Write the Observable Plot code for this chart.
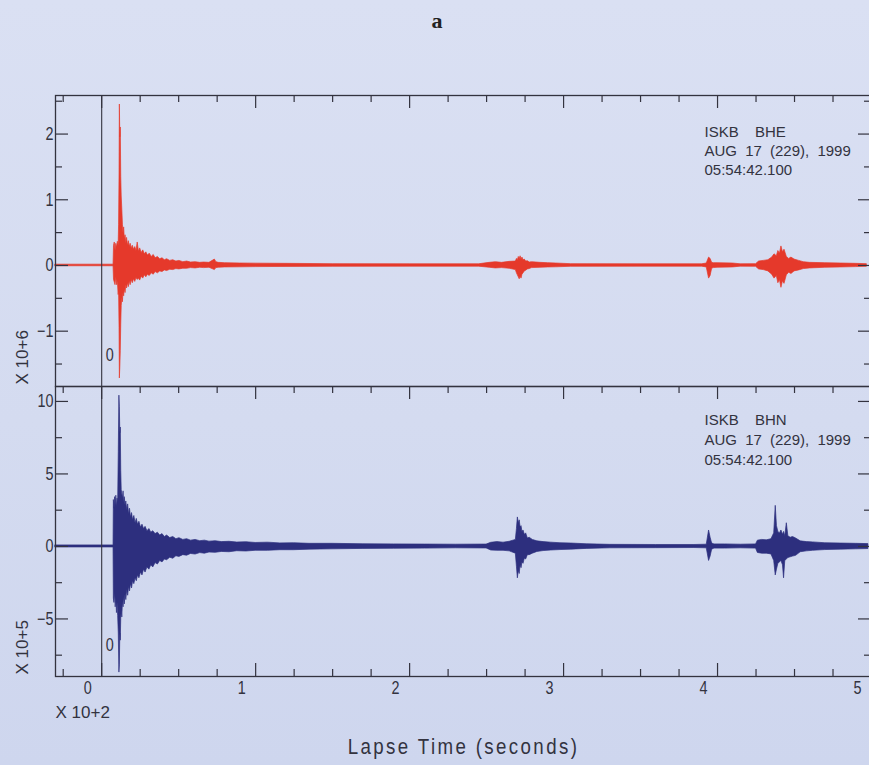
<!DOCTYPE html>
<html>
<head>
<meta charset="utf-8">
<script src="https://cdn.jsdelivr.net/npm/d3@7"></script>
<script src="https://cdn.jsdelivr.net/npm/@observablehq/plot@0.6"></script>
<style>
  html, body { margin: 0; padding: 0; overflow: hidden; background: #d5dcf0; }
  #wrap { position: relative; width: 869px; height: 765px; overflow: hidden;
          background: linear-gradient(180deg, #dae0f3 0%, #d4dbf0 55%, #ced6ee 100%); }
  #title { position: absolute; left: 0; width: 874px; top: 8px; text-align: center;
           font: bold 22px "Liberation Serif", "DejaVu Serif", serif; color: #222; line-height: 26px; }
  #top { position: absolute; left: 0; top: 0; }
  #bot { position: absolute; left: 0; top: 382px; }
  text[aria-label="axis-title"] { letter-spacing: 2.8px; }
  text[aria-label="station"] { word-spacing: 4px; }
</style>
</head>
<body>
<div id="wrap">
  <div id="title">a</div>
  <div id="top"></div>
  <div id="bot"></div>
</div>
<script>
// ---------------- data ----------------
// time in units of 10^2 s ; amplitudes: top trace x 10^6, bottom trace x 10^5
const redTime = [
 -0.300, 0.077, 0.080, 0.085, 0.090, 0.095, 0.100, 0.105, 0.110, 0.113,
  0.116, 0.118, 0.121, 0.124, 0.127, 0.130, 0.134, 0.138, 0.142, 0.146,
  0.150, 0.155, 0.160, 0.165, 0.170, 0.176, 0.182, 0.188, 0.195, 0.202,
  0.210, 0.218, 0.226, 0.234, 0.242, 0.250, 0.260, 0.270, 0.280, 0.290,
  0.300, 0.312, 0.325, 0.338, 0.350, 0.365, 0.380, 0.395, 0.410, 0.425,
  0.445, 0.465, 0.485, 0.505, 0.530, 0.555, 0.580, 0.610, 0.640, 0.665,
  0.700, 0.735, 0.745, 0.760, 0.800, 0.900, 1.000, 1.200, 1.500, 2.000,
  2.450, 2.520, 2.560, 2.600, 2.650, 2.690, 2.697, 2.703, 2.709, 2.715,
  2.721, 2.727, 2.733, 2.740, 2.748, 2.757, 2.768, 2.780, 2.795, 2.850,
  2.900, 2.950, 3.050, 3.500, 3.900, 3.930, 3.945, 3.955, 3.965, 3.975,
  4.000, 4.100, 4.150, 4.250, 4.270, 4.300, 4.330, 4.355, 4.370, 4.385,
  4.395, 4.405, 4.415, 4.425, 4.435, 4.450, 4.465, 4.480, 4.500, 4.530,
  4.560, 4.600, 4.700, 4.800, 4.900, 4.970
];
const redMax = [
  0.012, 0.012, 0.30, 0.35, 0.22, 0.33, 0.27, 0.36, 0.30, 0.62,
  1.40, 2.45, 1.95, 2.10, 1.35, 1.05, 0.85, 0.62, 0.48, 0.58,
  0.40, 0.46, 0.34, 0.42, 0.30, 0.37, 0.28, 0.33, 0.26, 0.30,
  0.24, 0.28, 0.22, 0.35, 0.21, 0.26, 0.19, 0.23, 0.17, 0.20,
  0.15, 0.18, 0.13, 0.16, 0.11, 0.13, 0.095, 0.11, 0.08, 0.095,
  0.07, 0.08, 0.06, 0.07, 0.05, 0.06, 0.045, 0.05, 0.04, 0.045,
  0.04, 0.09, 0.05, 0.04, 0.035, 0.03, 0.028, 0.025, 0.02, 0.018,
  0.018, 0.04, 0.05, 0.04, 0.055, 0.06, 0.10, 0.08, 0.13, 0.10,
  0.14, 0.09, 0.12, 0.08, 0.09, 0.06, 0.065, 0.045, 0.05, 0.04,
  0.035, 0.03, 0.02, 0.018, 0.018, 0.03, 0.12, 0.10, 0.04, 0.035,
  0.035, 0.03, 0.018, 0.02, 0.06, 0.07, 0.08, 0.12, 0.17, 0.14,
  0.22, 0.18, 0.29, 0.20, 0.24, 0.13, 0.10, 0.12, 0.09, 0.07,
  0.05, 0.04, 0.035, 0.03, 0.025, 0.02
];
const redMin = [
 -0.012, -0.012, -0.22, -0.26, -0.30, -0.18, -0.30, -0.24, -0.45, -0.38,
 -0.95, -1.72, -1.55, -1.30, -0.90, -0.62, -0.50, -0.56, -0.40, -0.47,
 -0.36, -0.42, -0.30, -0.35, -0.27, -0.33, -0.24, -0.30, -0.22, -0.27,
 -0.21, -0.25, -0.19, -0.22, -0.20, -0.23, -0.17, -0.20, -0.15, -0.18,
 -0.14, -0.16, -0.12, -0.14, -0.10, -0.12, -0.09, -0.10, -0.075, -0.085,
 -0.065, -0.07, -0.055, -0.06, -0.05, -0.05, -0.04, -0.045, -0.035, -0.04,
 -0.035, -0.07, -0.04, -0.035, -0.03, -0.028, -0.025, -0.022, -0.02, -0.018,
 -0.018, -0.035, -0.045, -0.04, -0.05, -0.07, -0.12, -0.15, -0.18, -0.21,
 -0.17, -0.20, -0.14, -0.12, -0.09, -0.08, -0.06, -0.055, -0.04, -0.035,
 -0.03, -0.028, -0.02, -0.018, -0.018, -0.03, -0.20, -0.16, -0.05, -0.04,
 -0.035, -0.03, -0.018, -0.02, -0.06, -0.07, -0.09, -0.14, -0.20, -0.16,
 -0.27, -0.22, -0.34, -0.24, -0.28, -0.15, -0.11, -0.13, -0.09, -0.075,
 -0.055, -0.045, -0.035, -0.03, -0.025, -0.02
];

const blueTime = [
 -0.300, 0.077, 0.079, 0.083, 0.087, 0.091, 0.095, 0.099, 0.103, 0.107,
  0.111, 0.115, 0.118, 0.121, 0.124, 0.127, 0.130, 0.134, 0.138, 0.142,
  0.146, 0.150, 0.155, 0.160, 0.166, 0.172, 0.178, 0.184, 0.190, 0.197,
  0.204, 0.212, 0.220, 0.228, 0.236, 0.245, 0.255, 0.265, 0.275, 0.285,
  0.297, 0.310, 0.322, 0.335, 0.350, 0.365, 0.380, 0.395, 0.410, 0.425,
  0.445, 0.465, 0.485, 0.505, 0.530, 0.555, 0.580, 0.610, 0.640, 0.670,
  0.700, 0.740, 0.780, 0.830, 0.880, 0.940, 1.000, 1.080, 1.160, 1.250,
  1.350, 1.500, 1.700, 1.900, 2.100, 2.300, 2.500, 2.530, 2.570, 2.610,
  2.650, 2.690, 2.697, 2.703, 2.709, 2.715, 2.721, 2.727, 2.733, 2.740,
  2.748, 2.757, 2.768, 2.780, 2.800, 2.830, 2.870, 2.920, 2.980, 3.050,
  3.150, 3.300, 3.600, 3.850, 3.930, 3.945, 3.955, 3.965, 3.980, 4.050,
  4.150, 4.250, 4.262, 4.290, 4.320, 4.350, 4.368, 4.378, 4.386, 4.395,
  4.405, 4.415, 4.425, 4.432, 4.440, 4.450, 4.460, 4.475, 4.490, 4.510,
  4.540, 4.580, 4.620, 4.700, 4.800, 4.900, 4.980
];
const blueMax = [
  0.07, 0.07, 3.2, 2.6, 3.4, 2.8, 3.5, 2.7, 3.3, 3.0,
  6.5, 10.4, 9.6, 7.8, 8.2, 5.2, 3.9, 3.6, 3.3, 3.8,
  3.0, 3.4, 2.8, 3.1, 2.5, 2.9, 2.2, 2.6, 2.0, 2.3,
  1.8, 2.1, 1.6, 1.9, 1.5, 1.7, 1.3, 1.5, 1.2, 1.35,
  1.05, 1.2, 0.95, 1.05, 0.85, 0.95, 0.75, 0.85, 0.65, 0.75,
  0.58, 0.65, 0.5, 0.57, 0.45, 0.5, 0.4, 0.45, 0.36, 0.4,
  0.33, 0.36, 0.3, 0.32, 0.27, 0.29, 0.24, 0.26, 0.21, 0.22,
  0.18, 0.18, 0.15, 0.14, 0.13, 0.12, 0.13, 0.25, 0.3, 0.26,
  0.32, 0.45, 1.2, 2.0, 1.6, 1.8, 1.3, 1.4, 1.0, 1.1,
  0.8, 0.9, 0.55, 0.6, 0.45, 0.35, 0.3, 0.26, 0.22, 0.2,
  0.15, 0.11, 0.1, 0.1, 0.12, 1.1, 0.6, 0.2, 0.14, 0.14,
  0.12, 0.14, 0.4, 0.45, 0.42, 0.5, 0.9, 2.8, 1.4, 1.0,
  0.9, 1.1, 0.8, 1.0, 0.7, 1.6, 0.7, 0.6, 0.65, 0.55,
  0.35, 0.3, 0.28, 0.22, 0.2, 0.18, 0.16
];
const blueMin = [
 -0.07, -0.07, -3.6, -3.9, -3.2, -4.2, -3.5, -4.6, -3.9, -4.8,
 -6.0, -8.7, -8.2, -6.0, -6.5, -5.0, -4.4, -4.9, -3.8, -4.2,
 -3.5, -4.0, -3.3, -3.7, -3.0, -3.4, -2.8, -3.1, -2.6, -2.9,
 -2.4, -2.6, -2.2, -2.4, -2.0, -2.2, -1.8, -2.0, -1.6, -1.8,
 -1.45, -1.6, -1.3, -1.45, -1.15, -1.25, -1.0, -1.1, -0.9, -0.95,
 -0.78, -0.85, -0.68, -0.72, -0.6, -0.64, -0.52, -0.56, -0.46, -0.5,
 -0.42, -0.44, -0.38, -0.4, -0.33, -0.35, -0.3, -0.3, -0.26, -0.26,
 -0.22, -0.2, -0.17, -0.16, -0.15, -0.13, -0.14, -0.28, -0.3, -0.3,
 -0.34, -0.5, -1.4, -2.2, -1.7, -1.9, -1.3, -1.5, -1.1, -1.2,
 -0.85, -0.9, -0.6, -0.6, -0.5, -0.38, -0.32, -0.28, -0.25, -0.22,
 -0.17, -0.13, -0.12, -0.11, -0.13, -1.0, -0.7, -0.22, -0.15, -0.15,
 -0.13, -0.15, -0.45, -0.5, -0.5, -0.55, -1.0, -2.0, -1.6, -1.2,
 -1.1, -1.0, -1.3, -2.2, -1.0, -0.9, -0.8, -0.75, -0.7, -0.65,
 -0.4, -0.34, -0.3, -0.25, -0.22, -0.2, -0.18
];

// axes / labels
const xMajorTicks = [0, 1, 2, 3, 4, 5];
const xMinorTicks = [-0.25, 0.25, 0.5, 0.75, 1.25, 1.5, 1.75, 2.25, 2.5, 2.75,
                     3.25, 3.5, 3.75, 4.25, 4.5, 4.75];
const topMajorTicks = [-1, 0, 1, 2];
const topMinorTicks = [-1.5, -0.5, 0.5, 1.5, 2.5];
const botMajorTicks = [-5, 0, 5, 10];
const botMinorTicks = [-7.5, -2.5, 2.5, 7.5];
const markerTimes = [0];
const markerNames = ["0"];
const station = "ISKB";
const channels = ["BHE", "BHN"];
const dateLine = "AUG 17 (229), 1999";
const clockLine = "05:54:42.100";
const yExponents = ["X 10+6", "X 10+5"];
const xExponent = "X 10+2";
const xTitle = "Lapse Time (seconds)";

// ---------------- drawing ----------------
[[redTime, redMax, redMin], [blueTime, blueMax, blueMin]].forEach(([a, b, c]) => {
  if (a.length !== b.length || a.length !== c.length) throw new Error("length mismatch " + a.length + " " + b.length + " " + c.length);
});

const ink = "#33333f";
const FONT = '"Liberation Sans", Arimo, Arial, sans-serif';
const W = 875, ML = 55, MR = 4, PW = W - ML - MR; // plot width 816
const xDomain = [-0.3, 5.0];
const fmt = d => (d < 0 ? "\u2212" : "") + Math.abs(d);

function panel({time, max, min, color, yDomain, yMajor, yMinor, channel, yExp,
                height, marginTop, marginBottom, bottomAxis, textDy, markerDy}) {
  const PH = height - marginTop - marginBottom;
  const marks = [
    Plot.areaY(time, {x: time, y1: min, y2: max, fill: color, stroke: color, strokeWidth: 0.7, curve: "linear"}),
    Plot.ruleX(markerTimes, {x: d => d, stroke: ink, strokeWidth: 1.1}),
    Plot.text(markerTimes, {x: d => d, text: markerNames, frameAnchor: "bottom", dx: 8, dy: markerDy,
                            fill: ink, fontSize: 18, lineAnchor: "middle", ariaLabel: () => "narrow"}),
    // y ticks (inward) left and right
    Plot.tickY(yMajor, {y: d => d, insetRight: PW - 13, stroke: ink, strokeWidth: 1.2}),
    Plot.tickY(yMinor, {y: d => d, insetRight: PW - 7, stroke: ink, strokeWidth: 1.2}),
    Plot.tickY(yMajor, {y: d => d, insetLeft: PW - 13, stroke: ink, strokeWidth: 1.2}),
    Plot.tickY(yMinor, {y: d => d, insetLeft: PW - 7, stroke: ink, strokeWidth: 1.2}),
    // x ticks on the top edge (pointing down)
    Plot.tickX(xMajorTicks, {x: d => d, insetBottom: PH - 13, stroke: ink, strokeWidth: 1.2}),
    Plot.tickX(xMinorTicks, {x: d => d, insetBottom: PH - 7, stroke: ink, strokeWidth: 1.2}),
    Plot.axisY(yMajor, {anchor: "left", tickSize: 0, tickPadding: 2, label: null, fontSize: 18, fill: ink, tickFormat: fmt}),
    Plot.text([station + " \u00a0" + channel], {text: d => d, frameAnchor: "top-right", dx: -167, dy: textDy[0],
              textAnchor: "start", lineAnchor: "middle", fontSize: 15, fill: ink, ariaLabel: () => "station"}),
    Plot.text([dateLine], {text: d => d, frameAnchor: "top-right", dx: -167, dy: textDy[1],
              textAnchor: "start", lineAnchor: "middle", fontSize: 15, fill: ink, ariaLabel: () => "station"}),
    Plot.text([clockLine], {text: d => d, frameAnchor: "top-right", dx: -167, dy: textDy[2],
              textAnchor: "start", lineAnchor: "middle", fontSize: 15, fill: ink, ariaLabel: () => "station"}),
    Plot.text([yExp], {text: d => d, frameAnchor: "bottom-left", dx: -33, dy: -2, rotate: -90,
              textAnchor: "start", lineAnchor: "middle", fontSize: 17, fill: ink}),
    Plot.frame({stroke: ink, strokeWidth: 1.3})
  ];
  if (bottomAxis) {
    marks.push(
      Plot.tickX(xMajorTicks, {x: d => d, insetTop: PH - 13, stroke: ink, strokeWidth: 1.2}),
      Plot.tickX(xMinorTicks, {x: d => d, insetTop: PH - 7, stroke: ink, strokeWidth: 1.2}),
      Plot.axisX(xMajorTicks, {anchor: "bottom", tickSize: 0, tickPadding: 5, dx: -14, label: null, fontSize: 18, fill: ink, tickFormat: fmt}),
      Plot.text([xExponent], {text: d => d, frameAnchor: "bottom-left", dx: 0, dy: 36, textAnchor: "start",
                lineAnchor: "middle", fontSize: 17, fill: ink}),
      Plot.text([xTitle], {text: d => d, frameAnchor: "bottom", dy: 70, lineAnchor: "middle",
                fontSize: 22, fill: ink, ariaLabel: () => "axis-title"})
    );
  }
  const svg = Plot.plot({
    width: W, height, marginTop, marginBottom, marginLeft: ML, marginRight: MR,
    x: {domain: xDomain, axis: bottomAxis ? undefined : null},
    y: {domain: yDomain},
    style: {background: "transparent", maxWidth: "none", overflow: "visible", fontFamily: FONT, fontSize: "18px", color: ink},
    marks
  });
  // narrow, plotter-style glyphs: compress selected texts horizontally about their own anchor
  const squeeze = (sel, k) => svg.querySelectorAll(sel).forEach(t => {
    const x = parseFloat(t.getAttribute("x"));
    const x0 = Number.isFinite(x) ? x : 0;
    const tr = t.getAttribute("transform") || "";
    t.setAttribute("transform", `${tr} translate(${x0},0) scale(${k},1) translate(${-x0},0)`);
  });
  squeeze('g[aria-label="y-axis tick label"] text, g[aria-label="x-axis tick label"] text, text[aria-label="narrow"]', 0.8);
  squeeze('text[aria-label="axis-title"]', 0.85);
  return svg;
}

document.getElementById("top").append(panel({
  time: redTime, max: redMax, min: redMin, color: "#e5392b",
  yDomain: [-1.842, 2.587], yMajor: topMajorTicks, yMinor: topMinorTicks,
  channel: channels[0], yExp: yExponents[0],
  height: 390, marginTop: 95, marginBottom: 4, bottomAxis: false,
  textDy: [37, 56, 75], markerDy: -31
}));

document.getElementById("bot").append(panel({
  time: blueTime, max: blueMax, min: blueMin, color: "#2d2f7e",
  yDomain: [-8.97, 11.03], yMajor: botMajorTicks, yMinor: botMinorTicks,
  channel: channels[1], yExp: yExponents[1],
  height: 383, marginTop: 4, marginBottom: 89, bottomAxis: true,
  textDy: [34, 54, 74], markerDy: -31
}));
</script>
</body>
</html>
